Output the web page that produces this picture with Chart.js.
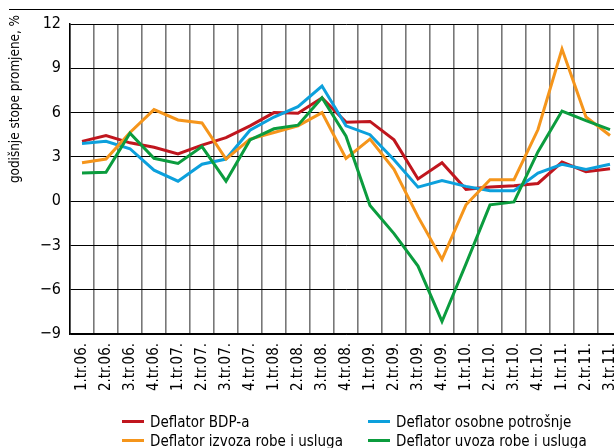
<!DOCTYPE html>
<html>
<head>
<meta charset="utf-8">
<script src="https://cdn.jsdelivr.net/npm/chart.js@4/dist/chart.umd.min.js"></script>
<style>
  body { margin: 0; overflow: hidden; background: #fff; font-family: "Liberation Sans Narrow", "DejaVu Sans Condensed", sans-serif; }
  #wrap { position: absolute; left: 0; top: 0; width: 614px; height: 448px; overflow: hidden; }
  #rule { position: absolute; left: 9px; top: 9px; width: 620px; height: 0; border-top: 1.3px solid #000; }
  #ytitle { position: absolute; left: -75px; top: 91px; width: 180px; height: 16px; line-height: 16px; text-align: center; transform: rotate(-90deg); white-space: nowrap; font-size: 13.4px; color: #000; }
  .leg { position: absolute; font-size: 15px; color: #000; white-space: nowrap; line-height: 18px; }
  .leg i { display: inline-block; width: 22px; height: 3px; vertical-align: middle; margin-right: 6px; position: relative; top: -1px; }
</style>
</head>
<body>
<div id="wrap">
  <canvas id="line-chart" width="640" height="448"></canvas>
  <div id="rule"></div>
  <div id="ytitle">godišnje stope promjene, %</div>
  <div class="leg" style="left:122px; top:413px"><i style="background:#c0161e"></i>Deflator BDP-a</div>
  <div class="leg" style="left:368px; top:413px"><i style="background:#0ca0dc"></i>Deflator osobne potrošnje</div>
  <div class="leg" style="left:122px; top:432px"><i style="background:#f5951b"></i>Deflator izvoza robe i usluga</div>
  <div class="leg" style="left:368px; top:432px"><i style="background:#0b9c3e"></i>Deflator uvoza robe i usluga</div>
</div>
<script>
var labels = ['1.tr.06.', '2.tr.06.', '3.tr.06.', '4.tr.06.',
  '1.tr.07.', '2.tr.07.', '3.tr.07.', '4.tr.07.',
  '1.tr.08.', '2.tr.08.', '3.tr.08.', '4.tr.08.',
  '1.tr.09.', '2.tr.09.', '3.tr.09.', '4.tr.09.',
  '1.tr.10.', '2.tr.10.', '3.tr.10.', '4.tr.10.',
  '1.tr.11.', '2.tr.11.', '3.tr.11.'];

var bdp = [4.05, 4.45, 3.95, 3.65, 3.2, 3.8, 4.3, 5.1, 6.0, 5.95, 7.0,
  5.35, 5.4, 4.15, 1.5, 2.6, 0.8, 0.95, 1.05, 1.2, 2.65, 2.0, 2.2];
var osobna = [3.9, 4.05, 3.55, 2.1, 1.35, 2.5, 2.85, 4.8, 5.7, 6.4, 7.8,
  5.1, 4.5, 2.8, 0.95, 1.4, 1.0, 0.7, 0.7, 1.9, 2.5, 2.15, 2.5];
var izvoz = [2.6, 2.85, 4.65, 6.2, 5.5, 5.3, 2.85, 4.2, 4.65, 5.1, 6.0,
  2.9, 4.2, 2.15, -1.05, -3.95, -0.25, 1.45, 1.45, 4.85, 10.3, 5.7, 4.45];
var uvoz = [1.9, 1.95, 4.6, 2.9, 2.55, 3.7, 1.35, 4.15, 4.9, 5.15, 7.0,
  4.4, -0.3, -2.2, -4.4, -8.15, -4.25, -0.25, -0.05, 3.35, 6.1, 5.45, 4.85];

var yTicks = [-9, -6, -3, 0, 3, 6, 9, 12];

var ctx = document.getElementById('line-chart').getContext('2d');
var mychart = new Chart(ctx, {
  type: 'line',
  data: {
    labels: labels,
    datasets: [
      { label: 'Deflator BDP-a', data: bdp, borderColor: '#c0161e', order: 4 },
      { label: 'Deflator osobne potrošnje', data: osobna, borderColor: '#0ca0dc', order: 3 },
      { label: 'Deflator izvoza robe i usluga', data: izvoz, borderColor: '#f5951b', order: 2 },
      { label: 'Deflator uvoza robe i usluga', data: uvoz, borderColor: '#0b9c3e', order: 1 }
    ]
  },
  options: {
    responsive: false,
    animation: false,
    devicePixelRatio: 1,
    layout: { padding: { left: 0, right: 18, top: 24, bottom: 0 } },
    elements: {
      line: { borderWidth: 3, tension: 0, fill: false, borderJoinStyle: 'miter' },
      point: { radius: 0 }
    },
    plugins: { legend: { display: false }, tooltip: { enabled: false } },
    scales: {
      x: {
        offset: true,
        grid: { offset: true, color: '#777', lineWidth: 1.6, drawTicks: false },
        border: { color: '#000', width: 1.5 },
        ticks: {
          minRotation: 90, maxRotation: 90, autoSkip: false, padding: 9,
          color: '#000', font: { family: '"Liberation Sans Narrow", "DejaVu Sans Condensed", sans-serif', size: 15 }
        },
        afterFit: function(s) { s.height = 448 - 334; }
      },
      y: {
        min: -9, max: 12,
        grid: { color: '#000', lineWidth: 1, drawTicks: false },
        border: { color: '#000', width: 1.5 },
        afterBuildTicks: function(s) { s.ticks = yTicks.map(function(v) { return { value: v }; }); },
        ticks: {
          padding: 9, color: '#000',
          font: { family: '"Liberation Sans Narrow", "DejaVu Sans Condensed", sans-serif', size: 16 },
          callback: function(v) { return v < 0 ? '\u2212' + Math.abs(v) : String(v); }
        },
        afterFit: function(s) { s.width = 70; }
      }
    }
  }
});
</script>
</body>
</html>
